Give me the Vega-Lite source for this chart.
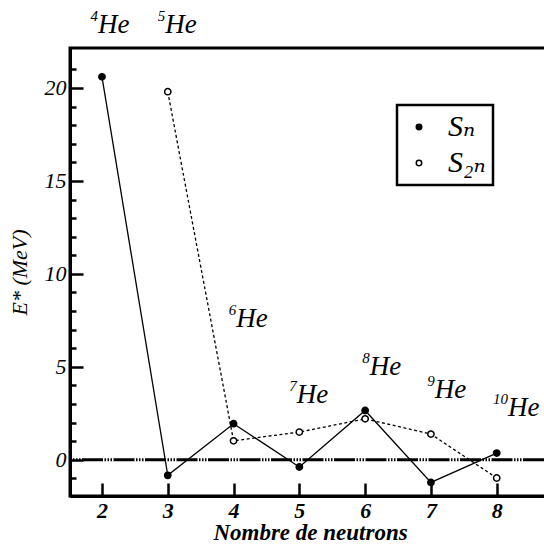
{
  "$schema": "https://vega.github.io/schema/vega-lite/v6.json",
  "autosize": "none",
  "padding": {"left": 70, "top": 48, "right": 0, "bottom": 55},
  "width": 480,
  "height": 448,
  "background": "white",
  "config": {
    "view": {"stroke": "black", "strokeWidth": 3},
    "legend": {"strokeWidth": 2.5},
    "axis": {
      "grid": false,
      "domainColor": "black",
      "domainWidth": 3,
      "tickColor": "black",
      "tickWidth": 2.5,
      "labelFont": "Liberation Serif",
      "labelFontStyle": "italic",
      "labelColor": "black",
      "titleFont": "Liberation Serif",
      "titleFontStyle": "italic",
      "titleColor": "black"
    }
  },
  "resolve": {"scale": {"y": "independent"}},
  "datasets": {
    "energies": [
      {"n": 2, "serie": "Sₙ", "E": 20.6},
      {"n": 3, "serie": "Sₙ", "E": -0.84},
      {"n": 4, "serie": "Sₙ", "E": 1.94},
      {"n": 5, "serie": "Sₙ", "E": -0.39},
      {"n": 6, "serie": "Sₙ", "E": 2.65},
      {"n": 7, "serie": "Sₙ", "E": -1.22},
      {"n": 8, "serie": "Sₙ", "E": 0.36},
      {"n": 3, "serie": "S₂ₙ", "E": 19.8},
      {"n": 4, "serie": "S₂ₙ", "E": 1.02},
      {"n": 5, "serie": "S₂ₙ", "E": 1.49},
      {"n": 6, "serie": "S₂ₙ", "E": 2.2},
      {"n": 7, "serie": "S₂ₙ", "E": 1.38},
      {"n": 8, "serie": "S₂ₙ", "E": -0.98}
    ],
    "isotopes": [
      {"n": 1.94, "E": 23.4, "A": "4"},
      {"n": 2.96, "E": 23.4, "A": "5"},
      {"n": 4.04, "E": 7.57, "A": "6"},
      {"n": 4.96, "E": 3.49, "A": "7"},
      {"n": 6.07, "E": 4.99, "A": "8"},
      {"n": 7.06, "E": 3.75, "A": "9"},
      {"n": 8.17, "E": 2.79, "A": "10"}
    ]
  },
  "layer": [
    {
      "data": {"name": "energies"},
      "transform": [{"filter": {"field": "serie", "equal": "Sₙ"}}],
      "mark": {"type": "line", "color": "black", "strokeWidth": 1.3},
      "encoding": {
        "x": {
          "field": "n", "type": "quantitative",
          "scale": {"domain": [1.514, 8.81], "nice": false, "zero": false},
          "axis": {
            "values": [2, 3, 4, 5, 6, 7, 8],
            "format": "d",
            "tickSize": -13,
            "labelFontSize": 22,
            "labelFontWeight": "bold",
            "labelPadding": 17,
            "title": "Nombre de neutrons",
            "titleFontSize": 23,
            "titleFontWeight": "bold",
            "titlePadding": 0
          }
        },
        "y": {
          "field": "E", "type": "quantitative",
          "scale": {"domain": [-1.95, 22.15], "nice": false, "zero": false},
          "axis": {
            "orient": "left",
            "values": [0, 5, 10, 15, 20],
            "tickSize": -13,
            "labelFontSize": 22,
            "labelPadding": 17,
            "title": "E* (MeV)",
            "titleFontSize": 22,
            "titleFontWeight": "normal",
            "titlePadding": 13
          }
        }
      }
    },
    {
      "data": {"name": "energies"},
      "transform": [{"filter": {"field": "serie", "equal": "S₂ₙ"}}],
      "mark": {"type": "line", "color": "black", "strokeWidth": 1.3, "strokeDash": [3, 2.5]},
      "encoding": {
        "x": {"field": "n", "type": "quantitative"},
        "y": {
          "field": "E", "type": "quantitative",
          "scale": {"domain": [-1.95, 22.15], "nice": false, "zero": false},
          "axis": {
            "orient": "left",
            "values": [-1, 1, 2, 3, 4, 6, 7, 8, 9, 11, 12, 13, 14, 16, 17, 18, 19, 21],
            "tickSize": -6,
            "labels": false,
            "domain": false,
            "title": null
          }
        }
      }
    },
    {
      "data": {"values": [{}]},
      "mark": {"type": "rule", "color": "black", "strokeWidth": 3, "strokeDash": [21, 1.5, 1.5, 1.5, 1.5, 1.5, 1.5, 1.5], "strokeDashOffset": -6},
      "encoding": {
        "y": {"datum": 0, "type": "quantitative", "scale": {"domain": [-1.95, 22.15], "nice": false, "zero": false}, "axis": null}
      }
    },
    {
      "data": {"name": "energies"},
      "mark": {"type": "point", "shape": "circle", "filled": true, "size": 40, "stroke": "black", "strokeWidth": 1.5, "opacity": 1},
      "encoding": {
        "x": {"field": "n", "type": "quantitative"},
        "y": {"field": "E", "type": "quantitative", "scale": {"domain": [-1.95, 22.15], "nice": false, "zero": false}, "axis": null},
        "fill": {
          "field": "serie", "type": "nominal",
          "scale": {"domain": ["Sₙ", "S₂ₙ"], "range": ["black", "white"]},
          "legend": {
            "title": null,
            "orient": "top-right",
            "offset": 57,
            "labelFont": "Liberation Serif, DejaVu Serif",
            "labelFontStyle": "italic",
            "labelFontSize": 30,
            "labelColor": "black",
            "labelOffset": 14,
            "symbolType": "circle",
            "symbolSize": 30,
            "symbolStrokeColor": "black",
            "symbolStrokeWidth": 1.5,
            "padding": 7,
            "rowPadding": 6,
            "strokeColor": "black",
            "fillColor": "white"
          }
        }
      }
    },
    {
      "data": {"name": "isotopes"},
      "mark": {"type": "text", "align": "right", "baseline": "middle", "dy": -9, "font": "Liberation Serif", "fontStyle": "italic", "fontSize": 15, "color": "black"},
      "encoding": {
        "x": {"field": "n", "type": "quantitative"},
        "y": {"field": "E", "type": "quantitative", "scale": {"domain": [-1.95, 22.15], "nice": false, "zero": false}, "axis": null},
        "text": {"field": "A"}
      }
    },
    {
      "data": {"name": "isotopes"},
      "mark": {"type": "text", "text": "He", "align": "left", "baseline": "middle", "font": "Liberation Serif", "fontStyle": "italic", "fontSize": 27, "color": "black"},
      "encoding": {
        "x": {"field": "n", "type": "quantitative"},
        "y": {"field": "E", "type": "quantitative", "scale": {"domain": [-1.95, 22.15], "nice": false, "zero": false}, "axis": null}
      }
    }
  ]
}
